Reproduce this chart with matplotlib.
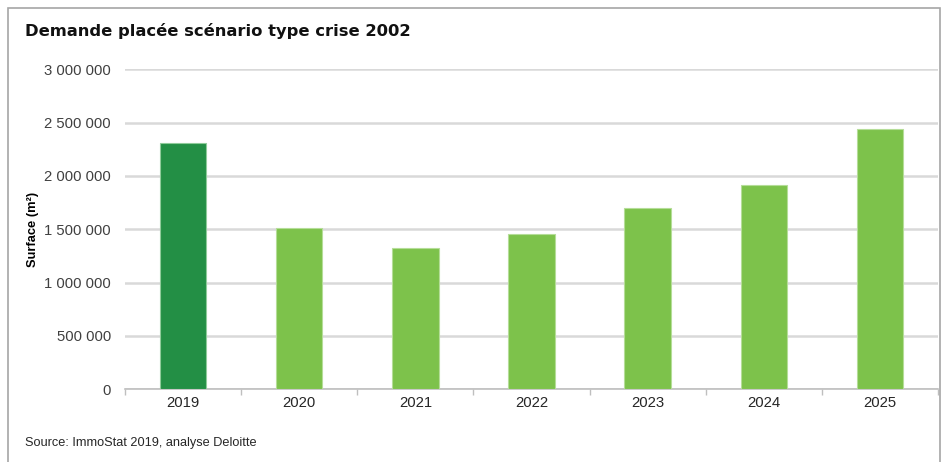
import matplotlib
matplotlib.use('Agg')
import matplotlib.pyplot as plt
from matplotlib.patches import Rectangle
from matplotlib.ticker import FuncFormatter, FixedLocator

# Data ==========================
years = ['2019', '2020', '2021', '2022', '2023', '2024', '2025']
surface = [2310000, 1510000, 1325000, 1455000, 1700000, 1915000, 2440000]
bar_colors = ['#238F45', '#7DC24B', '#7DC24B', '#7DC24B', '#7DC24B', '#7DC24B', '#7DC24B']
edge_colors = ['#8FCB9A', '#B5DD98', '#B5DD98', '#B5DD98', '#B5DD98', '#B5DD98', '#B5DD98']

title = 'Demande placée scénario type crise 2002'
ylabel = 'Surface (m²)'
source = 'Source: ImmoStat 2019, analyse Deloitte'

plt.rcParams['font.family'] = ['Liberation Sans', 'DejaVu Sans']

W, H = 946, 462
fig = plt.figure(figsize=(W / 100, H / 100), dpi=100)

# outer frame
frame = Rectangle((8 / W, -0.05), (940 - 8) / W, 1 - 7.5 / H + 0.05,
                  transform=fig.transFigure, fill=False, edgecolor='#A6A6A6', linewidth=1.2)
fig.patches.append(frame)

ax = fig.add_axes([125 / W, 1 - 389.2 / H, (938 - 125) / W, 319.8 / H])

x = range(len(years))
ax.bar(x, surface, width=0.4, color=bar_colors, edgecolor=edge_colors, linewidth=0.8, zorder=3)

ax.set_xlim(-0.5, len(years) - 0.5)
ax.set_ylim(0, 3000000)
ax.set_yticks(range(0, 3000001, 500000))
ax.yaxis.set_major_formatter(FuncFormatter(lambda v, p: f'{int(v):,}'.replace(',', ' ')))
ax.grid(axis='y', color='#D9D9D9', linewidth=1.8, zorder=0)
ax.tick_params(axis='y', length=0, pad=10, labelsize=10.7, labelcolor='#404040')

ax.set_xticks(list(x))
ax.set_xticklabels(years)
ax.xaxis.set_minor_locator(FixedLocator([i - 0.5 for i in range(len(years) + 1)]))
ax.tick_params(axis='x', which='major', length=0, pad=5, labelsize=10.7, labelcolor='#262626')
ax.tick_params(axis='x', which='minor', length=4, color='#BFBFBF', width=1)

for s in ['top', 'right', 'left']:
    ax.spines[s].set_visible(False)
ax.spines['bottom'].set_color('#BFBFBF')
ax.spines['bottom'].set_linewidth(1.2)

fig.text(33 / W, 1 - 229 / H, ylabel, rotation=90, ha='center', va='center',
         fontsize=9.3, fontweight='bold', color='#000000')
fig.text(25 / W, 1 - 31 / H, title, ha='left', va='center',
         fontsize=11.8, fontweight='bold', family='DejaVu Sans', color='#111111')
fig.text(25 / W, 1 - 443 / H, source, ha='left', va='center',
         fontsize=9.2, color='#262626')

fig.savefig('out.png', dpi=100)
